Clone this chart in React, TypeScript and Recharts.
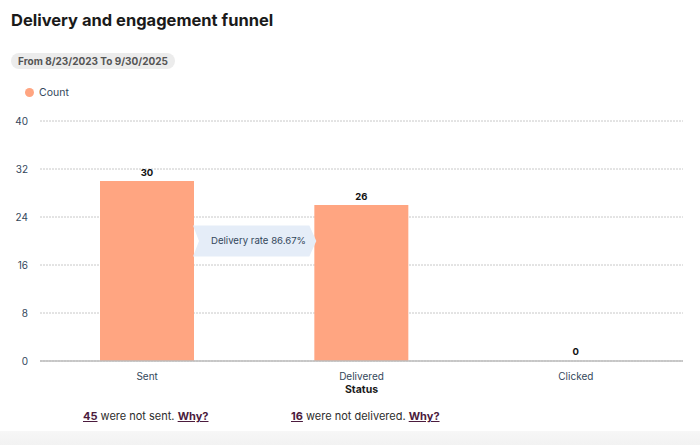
import { BarChart, Bar, XAxis, YAxis, CartesianGrid, LabelList, Rectangle } from "recharts";

const statuses = ["Sent", "Delivered", "Clicked"];
const counts = [30, 26, 0];
const yTicks = [0, 8, 16, 24, 32, 40];
const deliveryRate = "86.67%";
const notSent = 45;
const notDelivered = 16;

const data = statuses.map((s, i) => ({ status: s, count: counts[i] }));

const FONT = "Inter, 'Noto Sans', sans-serif";
const CHART_W = 700;
const MARGIN = { top: 121, right: 17, left: 0, bottom: 3 };
const Y_W = 40;
const BAR = 94;
const band = (CHART_W - MARGIN.left - MARGIN.right - Y_W) / statuses.length;

// value on top of each bar, drawn even when the bar is 0 high
const TopValue = (props: any) => {
  const { x, y, width, value } = props;
  return (
    <text x={Number(x) + Number(width) / 2} y={Number(y) - 8} textAnchor="middle" dy="0.35em" fontSize={9.5} fontWeight={700} fill="#111" fontFamily={FONT}>
      {value}
    </text>
  );
};

// zero bars keep their slot (minPointSize) but draw nothing
const BarShape = (props: any) => {
  if (!props.value) return null;
  return <Rectangle {...props} />;
};

// arrow between Sent and Delivered bars
const RateArrow = (props: any) => {
  const { x, y, width, height, index } = props;
  if (index !== 0) return null;
  const x0 = Number(x) + Number(width) - 1;
  const x1 = x0 + (band - BAR) + 3;
  const cy = Number(y) + Number(height) / 3;
  const h = 15.5;
  const pts = [
    [x0, cy - h],
    [x1 - 7, cy - h],
    [x1, cy],
    [x1 - 7, cy + h],
    [x0, cy + h],
    [x0 + 6, cy],
  ]
    .map((p) => p.join(","))
    .join(" ");
  return (
    <g>
      <polygon points={pts} fill="#e5edf8" />
      <text x={x0 + 18} y={cy} dy="0.35em" fontSize={9.6} fill="#33475b" fontFamily={FONT}>
        Delivery rate {deliveryRate}
      </text>
    </g>
  );
};

const linkStyle = { color: "#4b1b3d", fontWeight: 700, textDecoration: "underline" };

export default function App() {
  return (
    <div style={{ position: "absolute", left: 0, top: 0, width: 700, height: 445, background: "#fff", fontFamily: FONT, overflow: "hidden" }}>
      <div style={{ position: "absolute", left: 11, top: 10, fontSize: 16.5, fontWeight: 700, color: "#1a1a1a" }}>
        Delivery and engagement funnel
      </div>
      <div style={{ position: "absolute", left: 11, top: 53, height: 16, padding: "0 7px", borderRadius: 8, background: "#ececec", fontSize: 10, fontWeight: 700, color: "#555", lineHeight: "16px" }}>
        From 8/23/2023 To 9/30/2025
      </div>
      <div style={{ position: "absolute", left: 25, top: 86, display: "flex", alignItems: "center", fontSize: 10.5, color: "#33475b" }}>
        <span style={{ width: 9, height: 9, borderRadius: "50%", background: "#ffa581", display: "inline-block", marginRight: 5 }} />
        Count
      </div>
      <div style={{ position: "absolute", left: 0, top: 0 }}>
        <BarChart width={CHART_W} height={400} data={data} margin={MARGIN}>
          <CartesianGrid vertical={false} stroke="#c8c8c8" strokeDasharray="2 1" />
          <XAxis
            dataKey="status"
            height={36}
            tickLine={false}
            axisLine={{ stroke: "#bdbdbd", strokeWidth: 1.5 }}
            tickMargin={6}
            tick={{ fontSize: 10, fill: "#33475b", fontFamily: FONT }}
            label={{ value: "Status", position: "insideBottom", offset: 4, fontSize: 10.5, fontWeight: 700, fill: "#1a1a1a", fontFamily: FONT }}
          />
          <YAxis
            width={Y_W}
            domain={[0, 40]}
            ticks={yTicks}
            tickLine={false}
            axisLine={false}
            tickSize={0}
            tickMargin={12}
            tick={{ fontSize: 10, fill: "#33475b", fontFamily: FONT }}
          />
          <Bar dataKey="count" fill="#ffa581" barSize={BAR} minPointSize={1} shape={BarShape} isAnimationActive={false}>
            <LabelList dataKey="count" content={TopValue} />
            <LabelList dataKey="count" content={RateArrow} />
          </Bar>
        </BarChart>
      </div>
      <div style={{ position: "absolute", left: 83, top: 409, fontSize: 11, color: "#2d2d2d" }}>
        <span style={linkStyle}>{notSent}</span> were not sent. <span style={linkStyle}>Why?</span>
      </div>
      <div style={{ position: "absolute", left: 291, top: 409, fontSize: 11, color: "#2d2d2d" }}>
        <span style={linkStyle}>{notDelivered}</span> were not delivered. <span style={linkStyle}>Why?</span>
      </div>
      <div style={{ position: "absolute", left: 0, top: 431, width: 700, height: 14, background: "linear-gradient(#f7f7f7, #f2f2f2)" }} />
    </div>
  );
}
